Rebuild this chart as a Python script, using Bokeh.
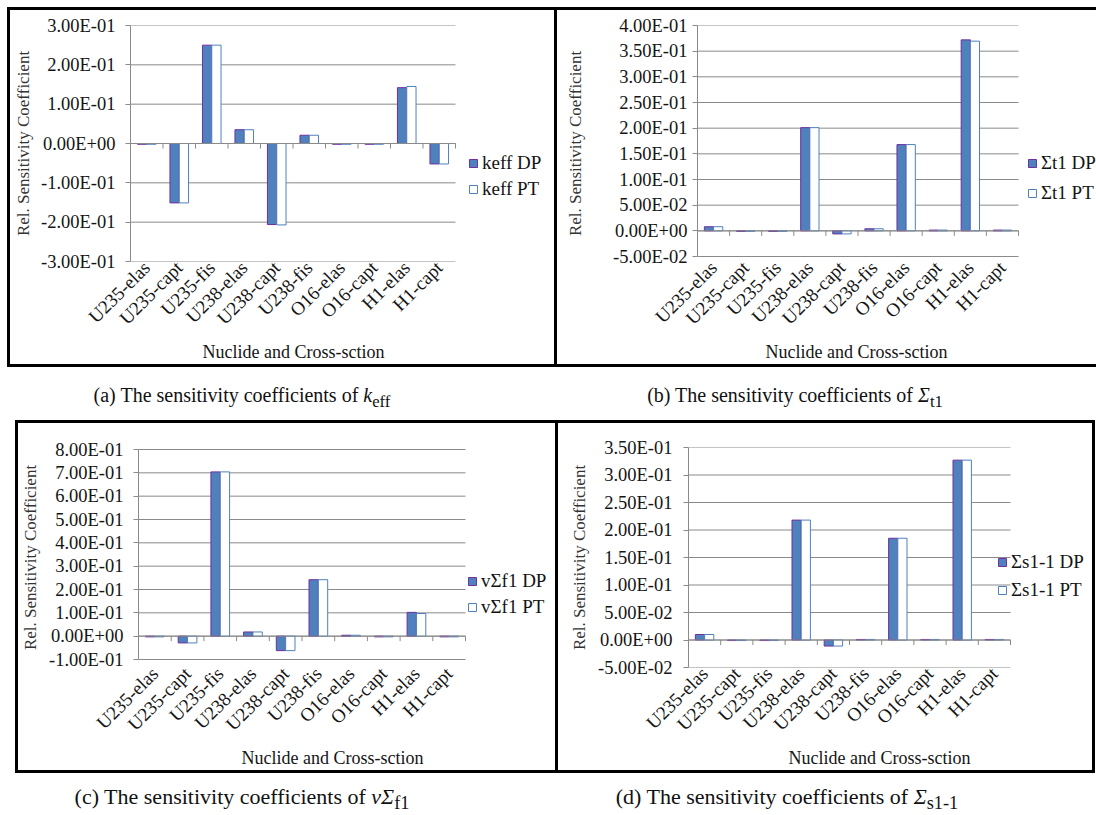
import math
import numpy as np
from bokeh.plotting import figure
from bokeh.models import (Range1d, FixedTicker, Legend, LegendItem, Title, Div,
                          ColumnDataSource)
from bokeh.layouts import row, column
from bokeh.embed import file_html
from bokeh.resources import INLINE

# ---------------------------------------------------------------- data
categories = ["U235-elas", "U235-capt", "U235-fis", "U238-elas", "U238-capt",
              "U238-fis", "O16-elas", "O16-capt", "H1-elas", "H1-capt"]

# (a) k_eff
keff_dp = [-0.002, -0.151, 0.250, 0.035, -0.206, 0.021, -0.002, -0.002, 0.142, -0.052]
keff_pt = [-0.002, -0.151, 0.250, 0.035, -0.207, 0.021, -0.002, -0.002, 0.145, -0.052]
keff_ticks = [-0.3, -0.2, -0.1, 0.0, 0.1, 0.2, 0.3]
keff_tick_labels = ["-3.00E-01", "-2.00E-01", "-1.00E-01", "0.00E+00",
                    "1.00E-01", "2.00E-01", "3.00E-01"]

# (b) Sigma_t1
sigt_dp = [0.008, -0.001, -0.001, 0.201, -0.006, 0.004, 0.168, 0.0015, 0.372, 0.0015]
sigt_pt = [0.008, -0.001, -0.001, 0.201, -0.006, 0.004, 0.168, 0.0015, 0.3695, 0.0015]
sigt_ticks = [-0.05, 0.0, 0.05, 0.1, 0.15, 0.2, 0.25, 0.3, 0.35, 0.4]
sigt_tick_labels = ["-5.00E-02", "0.00E+00", "5.00E-02", "1.00E-01", "1.50E-01",
                    "2.00E-01", "2.50E-01", "3.00E-01", "3.50E-01", "4.00E-01"]

# (c) nu Sigma_f1
nusigf_dp = [-0.003, -0.029, 0.704, 0.018, -0.062, 0.242, 0.004, -0.003, 0.102, -0.003]
nusigf_pt = [-0.003, -0.029, 0.704, 0.018, -0.062, 0.242, 0.004, -0.003, 0.097, -0.003]
nusigf_ticks = [-0.1, 0.0, 0.1, 0.2, 0.3, 0.4, 0.5, 0.6, 0.7, 0.8]
nusigf_tick_labels = ["-1.00E-01", "0.00E+00", "1.00E-01", "2.00E-01", "3.00E-01",
                      "4.00E-01", "5.00E-01", "6.00E-01", "7.00E-01", "8.00E-01"]

# (d) Sigma_s1-1
sigs_dp = [0.010, -0.001, -0.001, 0.218, -0.011, 0.001, 0.185, 0.001, 0.327, 0.001]
sigs_pt = [0.010, -0.001, -0.001, 0.218, -0.011, 0.001, 0.185, 0.001, 0.327, 0.001]
sigs_ticks = [-0.05, 0.0, 0.05, 0.1, 0.15, 0.2, 0.25, 0.3, 0.35]
sigs_tick_labels = ["-5.00E-02", "0.00E+00", "5.00E-02", "1.00E-01", "1.50E-01",
                    "2.00E-01", "2.50E-01", "3.00E-01", "3.50E-01"]

# ---------------------------------------------------------------- style
FONT = "Liberation Serif"
TEXT = "#141414"
GRID = "#8a8a8a"
DP_FILL = "#4F81BD"
DP_LINE = "#7030A0"
PT_LINE = "#4F81BD"
BAR_W = 1 / 3.5          # gap width 150 %, no overlap
LINE = 3                 # panel frame thickness
XTITLE = "Nuclide and Cross-sction"
XTITLE_HALF_W = 91       # half width of the x title at 18px


def frame_css(w, top, bottom, sides):
    """Black panel frame painted as CSS background lines (canvas is transparent)."""
    layers = []
    if "t" in sides:
        layers.append(f"0px {top}px / 100% {LINE}px")
    if "b" in sides:
        layers.append(f"0px {bottom - LINE}px / 100% {LINE}px")
    if "l" in sides:
        layers.append(f"0px {top}px / {LINE}px {bottom - top}px")
    if "r" in sides:
        layers.append(f"{w - LINE}px {top}px / {LINE}px {bottom - top}px")
    return {"background": ", ".join(f"linear-gradient(#000, #000) {l} no-repeat"
                                     for l in layers)}


def make_panel(dp, pt, ticks, tick_labels, names, fig_box, panel_box, row_frame,
               plot_area, legend_spec, title_x, ylab_spec, sides):
    """fig_box = (x0, y0, w, h, margin_left, margin_top) of the figure on the page;
    panel_box = (top, bottom) of the black frame on the page;
    row_frame = (top, bottom) of the Bokeh frame, shared by the plots of one row;
    plot_area = (left, top, right, bottom) of the value axis / category area."""
    x0, y0, w, h, mx, my = fig_box
    btop, bbot = panel_box
    ftop, fbot = row_frame
    fl, pt_, pr, pb_ = plot_area
    fr = x0 + w - (LINE if "r" in sides else 0)
    n = len(categories)
    centers = np.arange(n) + 0.5
    bounds = np.arange(n + 1).astype(float)
    x_end = n * (fr - fl) / (pr - fl)
    per_px = (ticks[-1] - ticks[0]) / (pb_ - pt_)
    y_start = ticks[0] - (fbot - pb_) * per_px
    y_end = ticks[-1] + (pt_ - ftop) * per_px

    p = figure(width=w, height=h, x_range=Range1d(0, x_end),
               y_range=Range1d(y_start, y_end),
               output_backend="svg", toolbar_location=None,
               min_border_left=fl - x0, min_border_right=x0 + w - fr,
               min_border_top=ftop - y0, min_border_bottom=y0 + h - fbot,
               border_fill_color=None, background_fill_color=None,
               outline_line_color=None, margin=(my, 0, 0, mx),
               styles=frame_css(w, btop - y0, bbot - y0, sides))

    # value gridlines across the category area only
    p.segment(x0=np.zeros(len(ticks)), x1=np.full(len(ticks), float(n)),
              y0=ticks, y1=ticks, line_color=GRID, line_width=1, level="underlay")

    src = ColumnDataSource(dict(x_dp=centers - BAR_W / 2, x_pt=centers + BAR_W / 2,
                                dp=dp, pt=pt))
    r_dp = p.vbar(x="x_dp", top="dp", bottom=0, width=BAR_W, source=src,
                  fill_color=DP_FILL, line_color=DP_LINE, line_width=1)
    r_pt = p.vbar(x="x_pt", top="pt", bottom=0, width=BAR_W, source=src,
                  fill_color="white", line_color=PT_LINE, line_width=1)

    # horizontal category axis crossing at zero, tick marks between categories
    p.segment(x0=[0.0], x1=[float(n)], y0=[0.0], y1=[0.0], line_color=GRID, line_width=1)
    tick_len = 5 * per_px
    p.segment(x0=bounds, y0=np.zeros(n + 1), x1=bounds, y1=np.full(n + 1, -tick_len),
              line_color=GRID, line_width=1)

    # category labels below the plot area
    xa = p.xaxis[0]
    xa.ticker = FixedTicker(ticks=list(centers))
    xa.major_label_overrides = {float(c): name for c, name in zip(centers, categories)}
    xa.major_label_orientation = math.pi / 4
    xa.axis_line_color = None
    xa.major_tick_line_color = None
    xa.major_tick_out = 0
    xa.major_tick_in = 0
    xa.minor_tick_line_color = None
    xa.minor_tick_out = 0
    xa.axis_label_standoff = 0
    xa.major_label_standoff = 3
    xa.major_label_text_font = FONT
    xa.major_label_text_font_size = "19px"
    xa.major_label_text_color = TEXT

    lab_standoff, title_standoff = ylab_spec
    ya = p.yaxis[0]
    ya.ticker = FixedTicker(ticks=ticks)
    ya.bounds = (ticks[0], ticks[-1])
    ya.major_label_overrides = dict(zip(ticks, tick_labels))
    ya.axis_line_color = GRID
    ya.major_tick_line_color = GRID
    ya.major_tick_out = 5
    ya.major_tick_in = 0
    ya.minor_tick_line_color = None
    ya.major_label_standoff = lab_standoff
    ya.major_label_text_font = FONT
    ya.major_label_text_font_size = "18.5px"
    ya.major_label_text_color = TEXT
    ya.axis_label = "Rel. Sensitivity Coefficient"
    ya.axis_label_text_font = FONT
    ya.axis_label_text_font_size = "17px"
    ya.axis_label_text_font_style = "normal"
    ya.axis_label_text_color = "#333333"
    ya.axis_label_standoff = title_standoff

    p.xgrid.visible = False
    p.ygrid.visible = False

    p.add_layout(Title(text=XTITLE, align="left",
                       offset=title_x - XTITLE_HALF_W - fl,
                       standoff=0, text_font=FONT, text_font_size="18px",
                       text_font_style="normal", text_color=TEXT), "below")

    lx, row1, pitch = legend_spec
    item_h = 21
    spacing = pitch - item_h
    leg_h = 2 * item_h + spacing
    leg = Legend(items=[LegendItem(label=names[0], renderers=[r_dp]),
                        LegendItem(label=names[1], renderers=[r_pt])],
                 location=(lx - fl, fbot - (row1 - item_h / 2 + leg_h)),
                 glyph_width=10, glyph_height=10, label_height=item_h,
                 spacing=spacing, padding=0, margin=0, label_standoff=4,
                 border_line_color=None, background_fill_alpha=0,
                 label_text_font=FONT, label_text_font_size="19px",
                 label_text_color=TEXT)
    p.add_layout(leg)
    return p


ROW1 = (25, 261)
ROW2 = (447, 667)

pa = make_panel(keff_dp, keff_pt, keff_ticks, keff_tick_labels,
                ["keff DP", "keff PT"],
                fig_box=(7, 7, 550, 375, 7, 7), panel_box=(7, 367), row_frame=ROW1,
                plot_area=(130, 25, 455, 261),
                legend_spec=(468, 164, 25), title_x=293,
                ylab_spec=(10, 5), sides="tblr")
pb = make_panel(sigt_dp, sigt_pt, sigt_ticks, sigt_tick_labels,
                ["\u03a3t1 DP", "\u03a3t1 PT"],
                fig_box=(557, 7, 539, 375, 0, 7), panel_box=(7, 367), row_frame=ROW1,
                plot_area=(697, 25, 1018, 256),
                legend_spec=(1027, 164, 29), title_x=856,
                ylab_spec=(5, 25), sides="tb")
pc = make_panel(nusigf_dp, nusigf_pt, nusigf_ticks, nusigf_tick_labels,
                ["v\u03a3f1 DP", "v\u03a3f1 PT"],
                fig_box=(15, 408, 543, 378, 15, 0), panel_box=(420, 773), row_frame=ROW2,
                plot_area=(138, 449, 465, 659),
                legend_spec=(467, 582, 25), title_x=332,
                ylab_spec=(10, 6), sides="tblr")
pd_ = make_panel(sigs_dp, sigs_pt, sigs_ticks, sigs_tick_labels,
                 ["\u03a3s1-1 DP", "\u03a3s1-1 PT"],
                 fig_box=(558, 408, 537, 378, 0, 0), panel_box=(420, 773), row_frame=ROW2,
                 plot_area=(688, 447, 1010, 667),
                 legend_spec=(997, 563, 27), title_x=879,
                 ylab_spec=(11, 6), sides="tbr")


def caption(html, width, height, left, size):
    return Div(text=html, width=width, height=height, margin=(0, 0, 0, left),
               styles={"font-family": FONT, "font-size": size,
                       "text-align": "center", "line-height": f"{height}px",
                       "color": "#111111"})


cap_a = caption("(a) The sensitivity coefficients of <i>k</i><sub>eff</sub>",
                400, 26, 42, "20px")
cap_b = caption("(b) The sensitivity coefficients of <i>\u03a3</i><sub>t1</sub>",
                400, 26, 153, "20px")
cap_c = caption("(c) The sensitivity coefficients of <i>v\u03a3</i><sub>f1</sub>",
                440, 22, 22, "22px")
cap_d = caption("(d) The sensitivity coefficients of <i>\u03a3</i><sub>s1-1</sub>",
                440, 22, 105, "22px")

page = column(row(pa, pb), row(cap_a, cap_b), row(pc, pd_), row(cap_c, cap_d))

open("out.html", "w").write(file_html(page, INLINE))
